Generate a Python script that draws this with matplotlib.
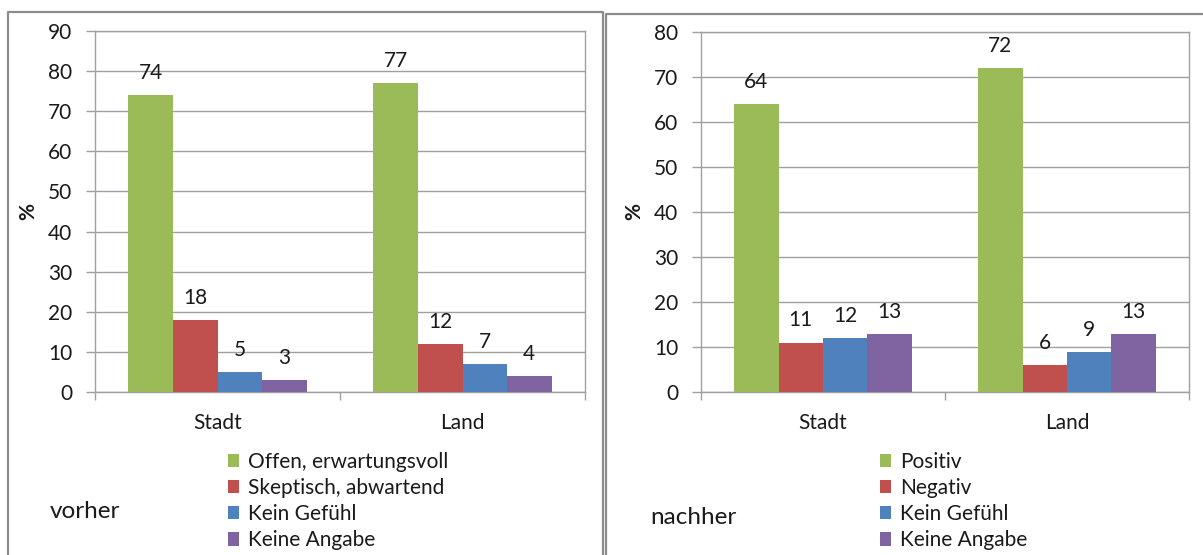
import matplotlib
matplotlib.use("Agg")
import matplotlib.pyplot as plt
from matplotlib.patches import Patch
from matplotlib.lines import Line2D

plt.rcParams['font.family'] = ['Lato', 'DejaVu Sans']

# ---- data ----
categories = ["Stadt", "Land"]

vorher_labels = ["Offen, erwartungsvoll", "Skeptisch, abwartend", "Kein Gefühl", "Keine Angabe"]
vorher_offen = [74, 77]
vorher_skeptisch = [18, 12]
vorher_kein_gefuehl = [5, 7]
vorher_keine_angabe = [3, 4]

nachher_labels = ["Positiv", "Negativ", "Kein Gefühl", "Keine Angabe"]
nachher_positiv = [64, 72]
nachher_negativ = [11, 6]
nachher_kein_gefuehl = [12, 9]
nachher_keine_angabe = [13, 13]

colors = ["#9BBB59", "#C0504D", "#4F81BD", "#8064A2"]
grid_c = "#A0A0A0"
txt_c = "#1A1A1A"
FS = 15

W, H = 1203, 555
fig = plt.figure(figsize=(W / 100, H / 100), dpi=100)


def fbox(x0, y_top, x1, y_bot):
    return [x0 / W, 1 - y_bot / H, (x1 - x0) / W, (y_bot - y_top) / H]


def draw_panel(ax, series, labels, ymax):
    n = len(series)
    width = 1 / (n + 1.5)
    for i, (vals, lab, c) in enumerate(zip(series, labels, colors)):
        xs = [k + (i - (n - 1) / 2) * width for k in range(len(categories))]
        ax.bar(xs, vals, width=width, color=c, label=lab, zorder=3, linewidth=0)
        for x, v in zip(xs, vals):
            ax.annotate(str(v), (x, v), xytext=(0, 16), textcoords='offset pixels',
                        ha='center', va='baseline', fontsize=FS, color=txt_c, zorder=4)
    ax.set_xlim(-0.5, len(categories) - 0.5)
    ax.set_ylim(0, ymax)
    ax.set_yticks(range(0, ymax + 1, 10))
    ax.yaxis.grid(True, color=grid_c, linewidth=1, zorder=0)
    ax.set_axisbelow(True)
    for s in ax.spines.values():
        s.set_color(grid_c)
        s.set_linewidth(1)
    ax.tick_params(axis='y', direction='out', length=6.5, width=1, color=grid_c,
                   labelsize=FS, labelcolor=txt_c, pad=10)
    # category boundaries as major ticks, names on minor ticks at centres
    ax.set_xticks([k - 0.5 for k in range(len(categories) + 1)])
    ax.set_xticklabels([])
    ax.set_xticks(range(len(categories)), minor=True)
    ax.set_xticklabels(categories, minor=True)
    ax.tick_params(axis='x', which='major', direction='out', length=6, width=1, color=grid_c)
    ax.tick_params(axis='x', which='minor', length=0, labelsize=FS, labelcolor=txt_c, pad=15)


ax1 = fig.add_axes(fbox(95, 31, 585, 392))
draw_panel(ax1, [vorher_offen, vorher_skeptisch, vorher_kein_gefuehl, vorher_keine_angabe],
           vorher_labels, 90)
ax2 = fig.add_axes(fbox(701, 32, 1189, 392))
draw_panel(ax2, [nachher_positiv, nachher_negativ, nachher_kein_gefuehl, nachher_keine_angabe],
           nachher_labels, 80)


def add_legend(ax, x_px, y_px):
    handles = [Patch(facecolor=c, edgecolor='none') for c in colors]
    labs = [c.get_label() for c in ax.containers]
    fig.legend(handles, labs, loc='upper left',
               bbox_to_anchor=(x_px / W, 1 - y_px / H), frameon=False,
               fontsize=FS, borderpad=0, borderaxespad=0,
               handlelength=0.55, handleheight=0.6, handletextpad=0.4,
               labelspacing=0.3, labelcolor=txt_c)


add_legend(ax1, 228, 451.5)
add_legend(ax2, 880, 451.5)

fig.text(28 / W, 1 - 212 / H, "%", rotation=90, ha='center', va='center',
         fontsize=FS, fontweight='bold', color=txt_c)
fig.text(634 / W, 1 - 212 / H, "%", rotation=90, ha='center', va='center',
         fontsize=FS, fontweight='bold', color=txt_c)
fig.text(50 / W, 1 - 512 / H, "vorher", ha='left', va='center', fontsize=17.5, color=txt_c)
fig.text(650 / W, 1 - 517 / H, "nachher", ha='left', va='center', fontsize=17.5, color=txt_c)

# panel frames
frame_c = "#8C8C8C"
def fline(xs, ys):
    fig.add_artist(Line2D([x / W for x in xs], [1 - y / H for y in ys],
                          color=frame_c, linewidth=1.6))

fline([8, 8, 603, 603], [560, 12, 12, 560])
fline([606, 606, 1210], [560, 13.5, 13.5])

fig.savefig("out.png", dpi=100, facecolor='white')
